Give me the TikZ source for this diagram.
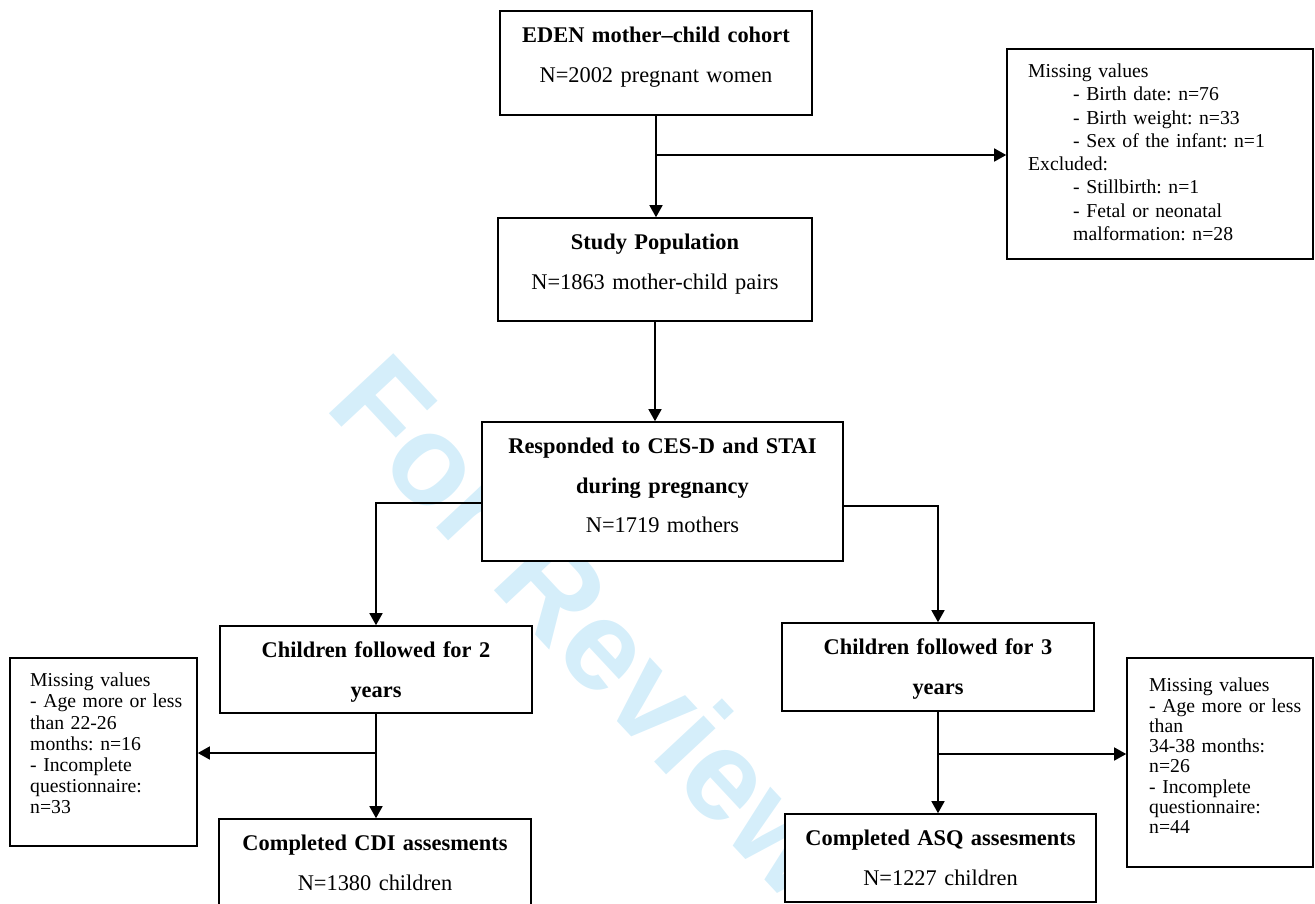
\documentclass[tikz,border=0pt]{standalone}
\usepackage{fontspec}
\setmainfont{Liberation Serif}
\newfontfamily\wmfont{Liberation Sans}
\usetikzlibrary{arrows.meta,calc}
\definecolor{wmcol}{RGB}{213,238,250}
\frenchspacing
\begin{document}
\begin{tikzpicture}[x=1pt,y=-1pt,
  box/.style={draw, fill=white, line width=1.6pt, rectangle, inner sep=0pt},
  conn/.style={line width=1.5pt, -{Triangle[width=13pt,length=12pt]}},
  maintxt/.style={anchor=base, inner sep=0pt, align=center, font=\frenchspacing\fontsize{22.4pt}{39.5pt}\selectfont},
  sidetxt/.style={anchor=base west, inner sep=0pt, align=left}
]
\useasboundingbox (0,0) rectangle (1315,903);
\begin{scope}
\clip (0,0) rectangle (1315,903);
\node[text=wmcol, font=\wmfont\bfseries\fontsize{128pt}{128pt}\selectfont, rotate=-47, inner sep=0pt] (wmk) at (590,626) {For Review};

% boxes
\node[box, minimum width=312pt, minimum height=104pt] (eden) at (656,63) {};
\node[box, minimum width=306pt, minimum height=210pt] (mv1) at (1160,154) {};
\node[box, minimum width=314pt, minimum height=103pt] (study) at (655,269.5) {};
\node[box, minimum width=361pt, minimum height=139pt] (resp) at (662.5,491.5) {};
\node[box, minimum width=312pt, minimum height=87pt] (child2) at (376,669.5) {};
\node[box, minimum width=312pt, minimum height=88pt] (child3) at (938,667) {};
\node[box, minimum width=312pt, minimum height=89pt] (cdi) at (375,863.5) {};
\node[box, minimum width=311pt, minimum height=88pt] (asq) at (940.5,858) {};
\node[box, minimum width=187pt, minimum height=188pt] (mvL) at (103.5,752) {};
\node[box, minimum width=186pt, minimum height=209pt] (mvR) at (1220,762.5) {};

% main texts
\node[maintxt, text width=312pt] (edent) at (656,42.5) {\textbf{EDEN mother–child cohort}\\N=2002 pregnant women};
\node[maintxt, text width=314pt] (studyt) at (655,249.5) {\textbf{Study Population}\\N=1863 mother-child pairs};
\node[maintxt, text width=361pt] (respt) at (662.5,453.5) {\textbf{Responded to CES-D and STAI}\\\textbf{during pregnancy}\\N=1719 mothers};
\node[maintxt, text width=312pt] (child2t) at (376,657.5) {\textbf{Children followed for 2}\\\textbf{years}};
\node[maintxt, text width=312pt] (child3t) at (938,654.5) {\textbf{Children followed for 3}\\\textbf{years}};
\node[maintxt, text width=312pt] (cdit) at (375,850.5) {\textbf{Completed CDI assesments}\\N=1380 children};
\node[maintxt, text width=311pt] (asqt) at (940.5,845.5) {\textbf{Completed ASQ assesments}\\N=1227 children};

% side texts
\node[sidetxt, text width=280pt, font=\frenchspacing\fontsize{19.7pt}{23.3pt}\selectfont] (mv1t) at (1028,77.4) {Missing values\\
\hspace*{45pt}- Birth date: n=76\\
\hspace*{45pt}- Birth weight: n=33\\
\hspace*{45pt}- Sex of the infant: n=1\\
Excluded:\\
\hspace*{45pt}- Stillbirth: n=1\\
\hspace*{45pt}- Fetal or neonatal\\
\hspace*{45pt}malformation: n=28};
\node[sidetxt, text width=165pt, font=\frenchspacing\fontsize{19.7pt}{21.2pt}\selectfont] (mvLt) at (30,686.7) {Missing values\\- Age more or less\\than 22-26\\months: n=16\\- Incomplete\\questionnaire:\\n=33};
\node[sidetxt, text width=160pt, font=\frenchspacing\fontsize{19.7pt}{20.3pt}\selectfont] (mvRt) at (1149,691.7) {Missing values\\- Age more or less\\than\\34-38 months:\\n=26\\- Incomplete\\questionnaire:\\n=44};

% connectors
\coordinate (b1) at (656,155);
\draw[conn] (eden.south) -- (eden.south |- study.north);
\draw[conn] (b1) -- (b1 -| mv1.west);
\draw[conn] (study.south) -- (study.south |- resp.north);
\coordinate (l1) at (482,503);
\draw[conn] (resp.west |- l1) -| (child2.north);
\coordinate (r1) at (843,506);
\draw[conn] (resp.east |- r1) -| (child3.north);
\draw[conn] (child2.south) -- (child2.south |- cdi.north);
\coordinate (b2) at (376,753);
\draw[conn] (b2) -- (b2 -| mvL.east);
\draw[conn] (child3.south) -- (child3.south |- asq.north);
\coordinate (b3) at (938,754);
\draw[conn] (b3) -- (b3 -| mvR.west);
\end{scope}
\end{tikzpicture}
\end{document}
